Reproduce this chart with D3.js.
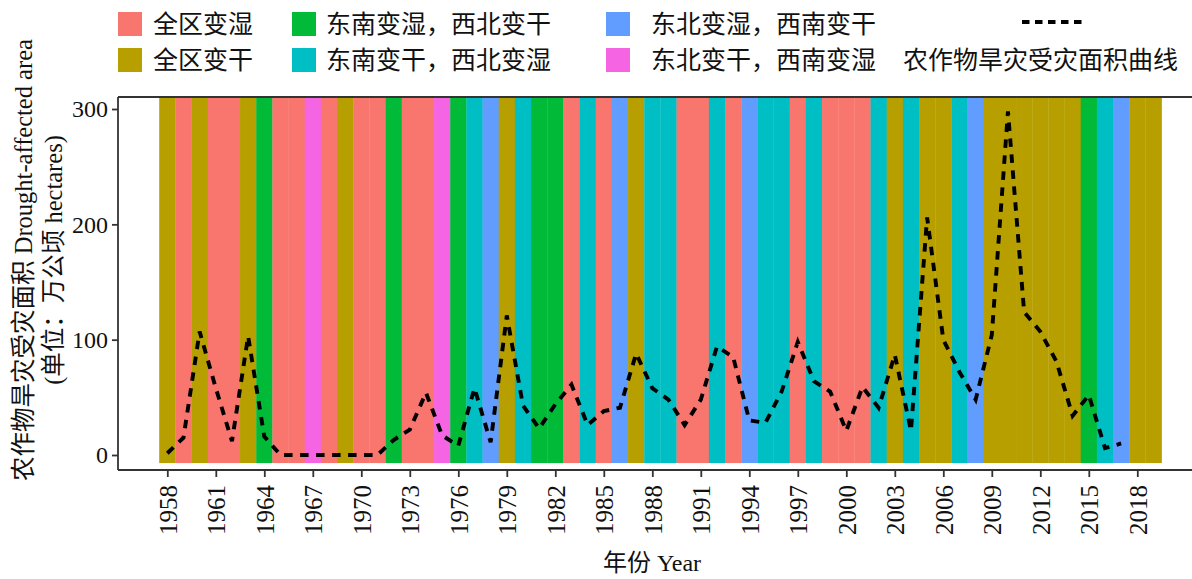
<!DOCTYPE html>
<html>
<head>
<meta charset="utf-8">
<script src="https://cdn.jsdelivr.net/npm/d3@7"></script>
<style>
  html, body { margin: 0; padding: 0; background: #fff; }
  svg { display: block; }
  text { font-family: "Liberation Serif", "Noto Sans CJK SC", serif; fill: #111; }
</style>
</head>
<body>
<svg id="chart" width="1192" height="579"></svg>
<script>
// Years covered by the colour bands (one band per year)
const bandYears = d3.range(1958, 2020);

// Regional wet/dry pattern code per year, 1958–2019
// W 全区变湿, D 全区变干, G 东南变湿西北变干, C 东南变干西北变湿, B 东北变湿西南变干, P 东北变干西南变湿
const patternCodes = [
  "D","W","D","W","W","D","G","W","W","P","W","D",   // 1958–1969
  "W","W","G","W","W","P","G","C","B","D",           // 1970–1979
  "C","G","G","W","C","W","B","D","C","C",           // 1980–1989
  "W","W","C","W","B","C","C","W","C","W",           // 1990–1999
  "W","W","C","D","C","D","D","C","B","D",           // 2000–2009
  "D","D","D","D","D","G","C","B","D","D"            // 2010–2019
];

// Crop drought-affected area (10^4 ha), 1958–2017
const areaYears = d3.range(1958, 2018);
const areaValues = [
  1.5, 15, 107, 58, 12, 103, 16, 0, 0, 0,            // 1958–1967
  0, 0, 0, 0, 13, 22, 54, 17, 8, 58,                 // 1968–1977
  11, 121, 43, 23, 44, 61, 26, 38, 41, 88,           // 1978–1987
  58, 48, 26, 48, 94, 85, 30, 28, 55, 98,            // 1988–1997
  64, 55, 21, 59, 41, 87, 21, 206, 100, 72,          // 1998–2007
  48, 104, 298, 124, 107, 81, 34, 52, 6, 10          // 2008–2017
];

// Legend categories and palette
const patternKeys = ["W", "D", "G", "C", "B", "P"];
const patternLabels = ["全区变湿", "全区变干", "东南变湿，西北变干", "东南变干，西北变湿", "东北变湿，西南变干", "东北变干，西南变湿"];
const patternColors = ["#F8766D", "#B79F00", "#00BA38", "#00BFC4", "#619CFF", "#F564E3"];
const lineLabel = "农作物旱灾受灾面积曲线";

// Axis ticks
const xTicks = d3.range(1958, 2019, 3);
const yTicks = [0, 100, 200, 300];

const svg = d3.select("#chart");
const panel = { left: 118, right: 1192, top: 97, bottom: 470 };

const x = d3.scaleLinear().domain([1958, 2018]).range([167.3, 1137.3]);
const y = d3.scaleLinear().domain([0, 300]).range([455, 109]);
const color = d3.scaleOrdinal().domain(patternKeys).range(patternColors);

// Year bands
const bands = bandYears.map((yr, i) => ({ year: yr, code: patternCodes[i] }));
svg.append("g").selectAll("rect")
  .data(bands)
  .join("rect")
  .attr("x", d => x(d.year - 0.5))
  .attr("width", d => x(d.year + 0.5) - x(d.year - 0.5) + 0.3)
  .attr("y", panel.top)
  .attr("height", y(-7) - panel.top)
  .attr("fill", d => color(d.code));

// Drought area line
const pts = areaYears.map((yr, i) => [yr, areaValues[i]]);
svg.append("path")
  .datum(pts)
  .attr("fill", "none")
  .attr("stroke", "#000")
  .attr("stroke-width", 3.9)
  .attr("stroke-dasharray", "8.5,7.5")
  .attr("d", d3.line().x(d => x(d[0])).y(d => y(d[1])));

// Panel frame: left, bottom and top lines
const frame = svg.append("g").attr("stroke", "#333").attr("stroke-width", 1.8).attr("fill", "none");
frame.append("line").attr("x1", panel.left).attr("x2", panel.left).attr("y1", panel.top).attr("y2", panel.bottom);
frame.append("line").attr("x1", panel.left).attr("x2", panel.right).attr("y1", panel.bottom).attr("y2", panel.bottom);
frame.append("line").attr("x1", panel.left).attr("x2", panel.right).attr("y1", panel.top).attr("y2", panel.top);

// Y axis
const yAxis = svg.append("g")
  .attr("transform", `translate(${panel.left},0)`)
  .call(d3.axisLeft(y).tickValues(yTicks).tickSize(6).tickPadding(4));
yAxis.select(".domain").remove();
yAxis.selectAll(".tick line").attr("stroke", "#333").attr("stroke-width", 1.8);
yAxis.selectAll(".tick text")
  .attr("font-size", 24)
  .attr("font-family", "Liberation Serif")
  .attr("fill", "#111");

// X axis
const xAxis = svg.append("g")
  .attr("transform", `translate(0,${panel.bottom})`)
  .call(d3.axisBottom(x).tickValues(xTicks).tickFormat(d3.format("d")).tickSize(7));
xAxis.select(".domain").remove();
xAxis.selectAll(".tick line").attr("stroke", "#333").attr("stroke-width", 1.8);
xAxis.selectAll(".tick text")
  .attr("font-size", 25)
  .attr("font-family", "Liberation Serif")
  .attr("fill", "#111")
  .attr("text-anchor", "end")
  .attr("transform", "translate(0,15) rotate(-90)")
  .attr("x", 0)
  .attr("y", 0)
  .attr("dy", "0.35em");

// Axis titles
svg.append("text")
  .attr("transform", "translate(652,571)")
  .attr("text-anchor", "middle")
  .attr("font-size", 24)
  .text("年份  Year");

const yTitle = svg.append("g").attr("transform", "translate(0,260)");
yTitle.append("text")
  .attr("transform", "translate(32,0) rotate(-90)")
  .attr("text-anchor", "middle")
  .attr("font-size", 24.5)
  .text("农作物旱灾受灾面积   Drought-affected area");
yTitle.append("text")
  .attr("transform", "translate(62,0) rotate(-90)")
  .attr("text-anchor", "middle")
  .attr("font-size", 24.5)
  .text("(单位：万公顷  hectares)");

// Legend
const legendPos = [
  { kx: 118, tx: 153, row: 0 }, { kx: 118, tx: 153, row: 1 },
  { kx: 292, tx: 326, row: 0 }, { kx: 292, tx: 326, row: 1 },
  { kx: 606, tx: 651, row: 0 }, { kx: 606, tx: 651, row: 1 }
];
const rowY = [24, 60];
const legend = svg.append("g");
patternKeys.forEach((k, i) => {
  const p = legendPos[i];
  legend.append("rect")
    .attr("x", p.kx).attr("y", rowY[p.row] - 12)
    .attr("width", 24).attr("height", 24)
    .attr("fill", color(k));
  legend.append("text")
    .attr("x", p.tx).attr("y", rowY[p.row])
    .attr("dy", "0.35em")
    .attr("font-size", 25)
    .text(patternLabels[i]);
});
legend.append("line")
  .attr("x1", 1022).attr("x2", 1086)
  .attr("y1", 22).attr("y2", 22)
  .attr("stroke", "#000").attr("stroke-width", 3.9)
  .attr("stroke-dasharray", "7.5,5.5");
legend.append("text")
  .attr("x", 903).attr("y", rowY[1])
  .attr("dy", "0.35em")
  .attr("font-size", 25)
  .text(lineLabel);
</script>
</body>
</html>
